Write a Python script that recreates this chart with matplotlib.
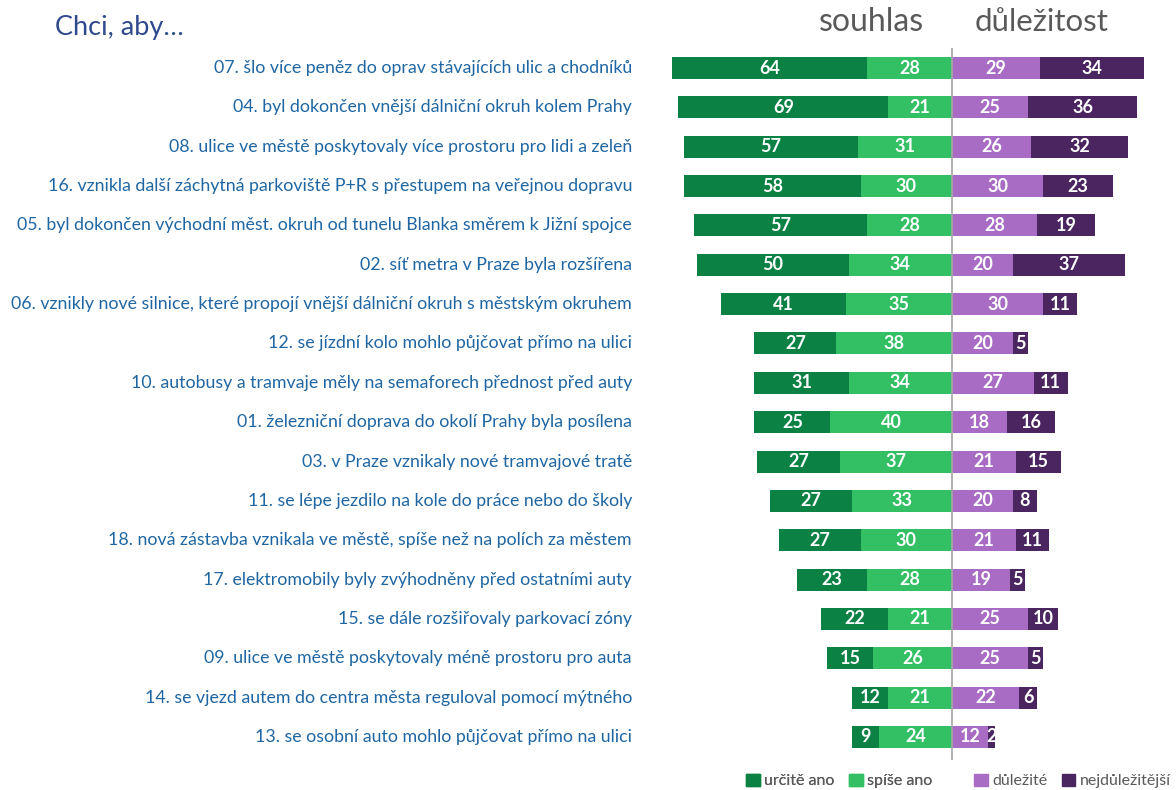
import numpy as np
import matplotlib.pyplot as plt
from matplotlib.patches import Patch

plt.rcParams['font.family'] = ['Lato', 'DejaVu Sans']

labels = [
    "07. šlo více peněz do oprav stávajících ulic a chodníků",
    "04. byl dokončen vnější dálniční okruh kolem Prahy",
    "08. ulice ve městě poskytovaly více prostoru pro lidi a zeleň",
    "16. vznikla další záchytná parkoviště P+R s přestupem na veřejnou dopravu",
    "05. byl dokončen východní měst. okruh od tunelu Blanka směrem k Jižní spojce",
    "02. síť metra v Praze byla rozšířena",
    "06. vznikly nové silnice, které propojí vnější dálniční okruh s městským okruhem",
    "12. se jízdní kolo mohlo půjčovat přímo na ulici",
    "10. autobusy a tramvaje měly na semaforech přednost před auty",
    "01. železniční doprava do okolí Prahy byla posílena",
    "03. v Praze vznikaly nové tramvajové tratě",
    "11. se lépe jezdilo na kole do práce nebo do školy",
    "18. nová zástavba vznikala ve městě, spíše než na polích za městem",
    "17. elektromobily byly zvýhodněny před ostatními auty",
    "15. se dále rozšiřovaly parkovací zóny",
    "09. ulice ve městě poskytovaly méně prostoru pro auta",
    "14. se vjezd autem do centra města reguloval pomocí mýtného",
    "13. se osobní auto mohlo půjčovat přímo na ulici",
]
urcite_ano = [64, 69, 57, 58, 57, 50, 41, 27, 31, 25, 27, 27, 27, 23, 22, 15, 12, 9]
spise_ano = [28, 21, 31, 30, 28, 34, 35, 38, 34, 40, 37, 33, 30, 28, 21, 26, 21, 24]
dulezite = [29, 25, 26, 30, 28, 20, 30, 20, 27, 18, 21, 20, 21, 19, 25, 25, 22, 12]
nejdulezitejsi = [34, 36, 32, 23, 19, 37, 11, 5, 11, 16, 15, 8, 11, 5, 10, 5, 6, 2]

c_dark_green = "#0b8144"
c_light_green = "#33c064"
c_light_purple = "#a86cc4"
c_dark_purple = "#4a2560"
c_label = "#1f66a3"

W, H = 1176, 790
fig = plt.figure(figsize=(W / 100, H / 100), dpi=100)

# axes placed in pixel terms: x from 640 to 1176, rows from y=48 to 760
ax_left, ax_right = 640, 1176
ax_top, ax_bottom = 48, 760
ax = fig.add_axes([ax_left / W, 1 - ax_bottom / H, (ax_right - ax_left) / W, (ax_bottom - ax_top) / H])
scale = 3.04  # px per unit
center = 952
ax.set_xlim((ax_left - center) / scale, (ax_right - center) / scale)

n = len(labels)
y = np.arange(n)
step = (737 - 68) / 17
ax.set_ylim(n - 1 + (ax_bottom - 737) / step, -(68 - ax_top) / step)

ua = np.array(urcite_ano)
sa = np.array(spise_ano)
du = np.array(dulezite)
nd = np.array(nejdulezitejsi)
h = 0.56

ax.barh(y, -ua, left=-sa, height=h, color=c_dark_green)
ax.barh(y, -sa, height=h, color=c_light_green)
ax.barh(y, du, height=h, color=c_light_purple)
ax.barh(y, nd, left=du, height=h, color=c_dark_purple)

vfs = 13
for i in range(n):
    ax.text(-sa[i] - ua[i] / 2, i, str(ua[i]), ha='center', va='center', color='white',
            fontsize=vfs, fontweight='bold')
    ax.text(-sa[i] / 2, i, str(sa[i]), ha='center', va='center', color='white',
            fontsize=vfs, fontweight='bold')
    ax.text(du[i] / 2, i, str(du[i]), ha='center', va='center', color='white',
            fontsize=vfs, fontweight='bold')
    ax.text(du[i] + nd[i] / 2, i, str(nd[i]), ha='center', va='center', color='white',
            fontsize=vfs, fontweight='bold')
    fig.text(632 / W, 1 - (68 + i * step) / H, labels[i], ha='right', va='center',
             color=c_label, fontsize=12.8)

ax.axvline(0, color='#a6a6a6', lw=1.2)
for s in ax.spines.values():
    s.set_visible(False)
ax.set_xticks([])
ax.set_yticks([])

fig.text(55 / W, 1 - 28 / H, "Chci, aby…", color="#2f4a8c", fontsize=19.5, va='center')
fig.text(872 / W, 1 - 22 / H, "souhlas", color="#595959", fontsize=23, ha='center', va='center')
fig.text(1042 / W, 1 - 22 / H, "důležitost", color="#595959", fontsize=22.5, ha='center', va='center')

handles1 = [Patch(color=c_dark_green, label="určitě ano"),
            Patch(color=c_light_green, label="spíše ano")]
handles2 = [Patch(color=c_light_purple, label="důležité"),
            Patch(color=c_dark_purple, label="nejdůležitější")]
kw = dict(ncol=2, frameon=False, fontsize=11.5, labelcolor="#595959", handlelength=0.85,
          handleheight=0.85, handletextpad=0.3, columnspacing=0.9, borderpad=0)
leg1 = fig.legend(handles=handles1, loc='center left', bbox_to_anchor=(738 / W, 1 - 781 / H), **kw)
fig.add_artist(leg1)
fig.legend(handles=handles2, loc='center left', bbox_to_anchor=(966 / W, 1 - 781 / H), **kw)

fig.savefig("out.png", dpi=100)
